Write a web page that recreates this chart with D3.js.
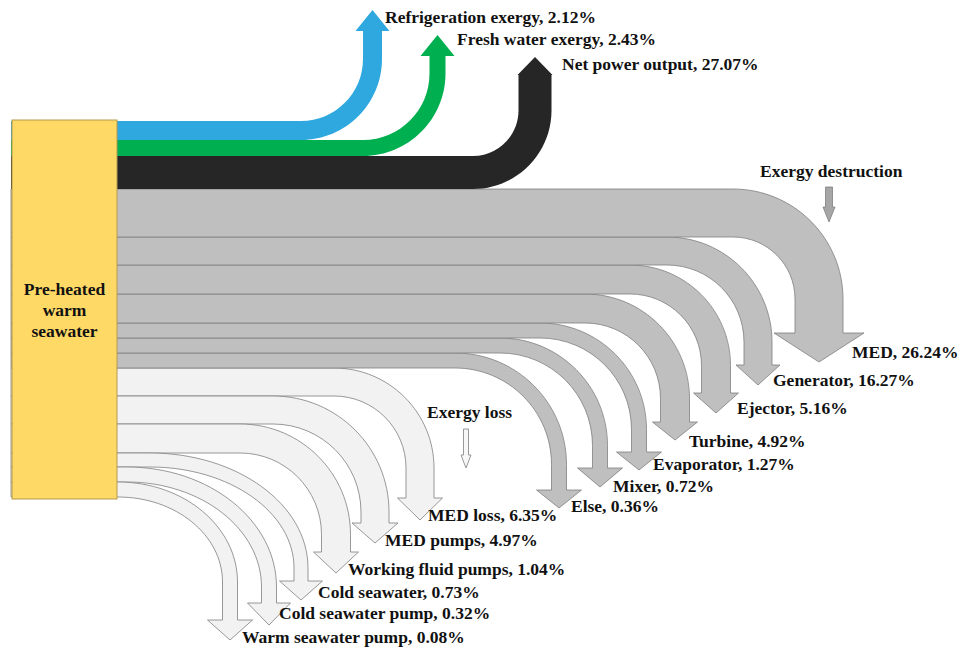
<!DOCTYPE html>
<html>
<head>
<meta charset="utf-8">
<script src="https://cdn.jsdelivr.net/npm/d3@7/dist/d3.min.js"></script>
<style>
  html, body { margin: 0; padding: 0; background: #fff; }
  svg text { font-family: "Liberation Serif", "Times New Roman", serif; font-weight: bold; font-size: 17.5px; fill: #111; }
</style>
</head>
<body>
<svg id="chart" width="960" height="653"></svg>
<script>
// ---- Exergy distribution (% of pre-heated warm seawater exergy) ----
const sourceLines = ["Pre-heated", "warm", "seawater"];

const productNames  = ["Refrigeration exergy", "Fresh water exergy", "Net power output"];
const productValues = [2.12, 2.43, 27.07];

const destructionTitle  = "Exergy destruction";
const destructionNames  = ["MED", "Generator", "Ejector", "Turbine", "Evaporator", "Mixer", "Else"];
const destructionValues = [26.24, 16.27, 5.16, 4.92, 1.27, 0.72, 0.36];

const lossTitle  = "Exergy loss";
const lossNames  = ["MED loss", "MED pumps", "Working fluid pumps", "Cold seawater", "Cold seawater pump", "Warm seawater pump"];
const lossValues = [6.35, 4.97, 1.04, 0.73, 0.32, 0.08];

// ---- drawing layout (band thickness units, turn geometry, arrow heads, label anchors) ----
const bandUnits = [19, 16, 33, 48, 28, 29, 29, 15, 15, 15, 28, 28, 29, 14, 15, 15];
// turn: x where the band starts bending; stem: x of the vertical stem centre;
// ry: vertical radius of the bend (defaults to the horizontal one);
// head: [base y, width, height]; label: [x, baseline y]
const productLayout = [
  { turn: 301, stem: 372.5, head: [31, 34, 21], label: [385, 23] },
  { turn: 363, stem: 437.5, head: [56, 34, 21], label: [457, 45] },
  { turn: 473, stem: 535,   head: [75, 35, 18], label: [562, 70] }
];
const destructionLayout = [
  { turn: 733, stem: 819, head: [333, 90, 29], label: [852, 358] },
  { turn: 667, stem: 758, head: [365, 44, 20], label: [773, 386] },
  { turn: 630, stem: 716, head: [393, 45, 20], label: [737, 414] },
  { turn: 585, stem: 675, head: [422, 45, 18], label: [689, 447] },
  { turn: 540, stem: 639, head: [452, 45, 18], label: [653, 470] },
  { turn: 500, stem: 600, head: [468, 45, 19], label: [613, 492] },
  { turn: 455, stem: 559, head: [490, 45, 18], label: [571, 512] }
];
const lossLayout = [
  { turn: 334, stem: 420, head: [498, 45, 22], label: [428, 521] },
  { turn: 273, stem: 375, head: [523, 46, 20], label: [385, 546] },
  { turn: 240, stem: 336, head: [552, 45, 21], label: [348, 575] },
  { turn: 150, stem: 301, ry: 115, head: [581, 43, 19], label: [318, 598] },
  { turn: 127, stem: 269, ry: 120, head: [603, 43, 22], label: [279, 619] },
  { turn: 118, stem: 230, ry: 100, head: [620, 45, 20], label: [242, 643] }
];

const colors = {
  products: ["#2ea8df", "#00af50", "#262626"],
  destruction: "#bfbfbf",
  loss: "#f2f2f2",
  edge: "#7f7f7f",
  source: "#ffd966",
  sourceEdge: "#b59a4a"
};

const svg = d3.select("#chart");

// Box holding the source, and a vertical scale that stacks every band along its right edge
const box = { x0: 12, x1: 117, y0: 120, y1: 499 };
const cumUnits = [0, ...Array.from(d3.cumsum(bandUnits))];
const y = d3.scaleLinear().domain([0, cumUnits[cumUnits.length - 1]]).range([121, 497]);

const K = 0.5523; // cubic approximation of a quarter ellipse

// Build one flow: all bands start at the box, run right, bend up or down, end in an arrow head.
function flowPath(i, L, dir) {
  const top = y(cumUnits[i]);
  const t = y(cumUnits[i + 1]) - top;
  const x0 = box.x0 - 1;
  const rx = L.stem + t / 2 - L.turn;          // outer horizontal radius
  const ry = L.ry != null ? L.ry : rx;          // outer vertical radius
  const ri = rx - t, rj = ry - t;               // inner radii
  const [hb, hw, hh] = L.head;
  const p = d3.path();
  if (dir > 0) {
    // bends downward: top edge is the outer side
    const cy = top + ry;
    p.moveTo(x0, top);
    p.lineTo(L.turn, top);
    p.bezierCurveTo(L.turn + rx * K, top, L.turn + rx, cy - ry * K, L.turn + rx, cy);
    p.lineTo(L.turn + rx, hb);
    p.lineTo(L.stem + hw / 2, hb);
    p.lineTo(L.stem, hb + hh);
    p.lineTo(L.stem - hw / 2, hb);
    p.lineTo(L.turn + ri, hb);
    p.lineTo(L.turn + ri, cy);
    p.bezierCurveTo(L.turn + ri, cy - rj * K, L.turn + ri * K, top + t, L.turn, top + t);
    p.lineTo(x0, top + t);
    p.closePath();
  } else {
    // bends upward: bottom edge is the outer side
    const bot = top + t;
    const cy = bot - ry;
    p.moveTo(x0, top);
    p.lineTo(L.turn, top);
    p.bezierCurveTo(L.turn + ri * K, top, L.turn + ri, cy + rj * K, L.turn + ri, cy);
    p.lineTo(L.turn + ri, hb);
    p.lineTo(L.stem - hw / 2, hb);
    p.lineTo(L.stem, hb - hh);
    p.lineTo(L.stem + hw / 2, hb);
    p.lineTo(L.turn + rx, hb);
    p.lineTo(L.turn + rx, cy);
    p.bezierCurveTo(L.turn + rx, cy + ry * K, L.turn + rx * K, bot, L.turn, bot);
    p.lineTo(x0, bot);
    p.closePath();
  }
  return p.toString();
}

const fmt = d3.format(".2f");

// Loss flows (lowest bands), drawn first
const lossData = lossNames.map((n, k) => ({ name: n, value: lossValues[k], L: lossLayout[k], i: 10 + k }));
svg.append("g").selectAll("path").data(lossData).join("path")
  .attr("d", d => flowPath(d.i, d.L, 1))
  .attr("fill", colors.loss)
  .attr("stroke", colors.edge)
  .attr("stroke-width", 0.8);

// Destruction flows
const destData = destructionNames.map((n, k) => ({ name: n, value: destructionValues[k], L: destructionLayout[k], i: 3 + k }));
svg.append("g").selectAll("path").data(destData.slice().reverse()).join("path")
  .attr("d", d => flowPath(d.i, d.L, 1))
  .attr("fill", colors.destruction)
  .attr("stroke", colors.edge)
  .attr("stroke-width", 0.8);

// Useful products, bending upward
const prodData = productNames.map((n, k) => ({ name: n, value: productValues[k], L: productLayout[k], i: k, c: colors.products[k] }));
svg.append("g").selectAll("path").data(prodData).join("path")
  .attr("d", d => flowPath(d.i, d.L, -1))
  .attr("fill", d => d.c);

// Source box
svg.append("rect")
  .attr("x", box.x0).attr("y", box.y0)
  .attr("width", box.x1 - box.x0).attr("height", box.y1 - box.y0)
  .attr("fill", colors.source)
  .attr("stroke", colors.sourceEdge)
  .attr("stroke-width", 1);

svg.append("text")
  .attr("text-anchor", "middle")
  .selectAll("tspan").data(sourceLines).join("tspan")
  .attr("x", (box.x0 + box.x1) / 2)
  .attr("y", (d, k) => 295 + k * 21)
  .text(d => d);

// Flow labels
const labels = svg.append("g");
[prodData, destData, lossData].forEach(set => {
  labels.selectAll(null).data(set).join("text")
    .attr("x", d => d.L.label[0])
    .attr("y", d => d.L.label[1])
    .text(d => `${d.name}, ${fmt(d.value)}%`);
});

// Group titles with small pointer arrows
function pointer(cx, y0, y1, headH, shaftW, headW, fill) {
  const p = d3.path();
  const hb = y1 - headH;
  p.moveTo(cx - shaftW / 2, y0);
  p.lineTo(cx + shaftW / 2, y0);
  p.lineTo(cx + shaftW / 2, hb);
  p.lineTo(cx + headW / 2, hb);
  p.lineTo(cx, y1);
  p.lineTo(cx - headW / 2, hb);
  p.lineTo(cx - shaftW / 2, hb);
  p.closePath();
  svg.append("path").attr("d", p.toString())
    .attr("fill", fill).attr("stroke", colors.edge).attr("stroke-width", 0.8);
}
svg.append("text").attr("x", 760).attr("y", 177).text(destructionTitle);
pointer(829, 187, 222, 15, 7, 12, "#a6a6a6");
svg.append("text").attr("x", 427).attr("y", 418).text(lossTitle);
pointer(466, 429, 468, 13, 5, 10, "#f7f7f7");
</script>
</body>
</html>
